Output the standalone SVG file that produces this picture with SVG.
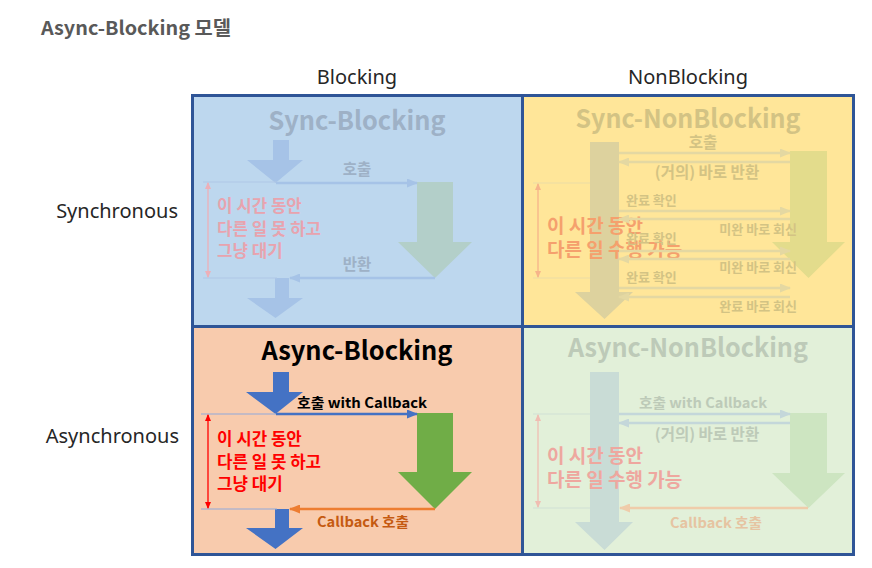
<svg xmlns="http://www.w3.org/2000/svg" width="872" height="568" viewBox="0 0 872 568">
<style>
.kr{font-family:"Noto Sans CJK KR","Noto Sans",sans-serif;font-weight:700}
.qt{font-family:"Noto Sans CJK KR","Noto Sans",sans-serif;font-weight:700;font-size:26px;text-anchor:middle}
.ax{font-family:"Noto Sans","Noto Sans CJK KR",sans-serif;font-size:20px;fill:#262626}
.lbl{font-family:"Noto Sans CJK KR","Noto Sans",sans-serif;font-weight:700;font-size:15.5px}
.sm{font-family:"Noto Sans CJK KR","Noto Sans",sans-serif;font-weight:700;font-size:13px}
.red{font-family:"Noto Sans CJK KR","Noto Sans",sans-serif;font-weight:700;font-size:16.8px}
.red2{font-family:"Noto Sans CJK KR","Noto Sans",sans-serif;font-weight:700;font-size:19px}
.ln{fill:none;stroke-width:2.5}
.dim{fill:none;stroke-width:1.3}
.grid{fill:none;stroke-width:1.2}
.frame{fill:none;stroke:#2F5597;stroke-width:3}
</style>
<defs>
<marker id="mB" markerUnits="userSpaceOnUse" markerWidth="11" markerHeight="9" refX="10" refY="4.5" orient="auto"><path d="M0,0 L11,4.5 L0,9 z" fill="#4472C4"/></marker>
<marker id="mO" markerUnits="userSpaceOnUse" markerWidth="11" markerHeight="9" refX="10" refY="4.5" orient="auto"><path d="M0,0 L11,4.5 L0,9 z" fill="#ED7D31"/></marker>
<marker id="mTB" markerUnits="userSpaceOnUse" markerWidth="11" markerHeight="9" refX="10" refY="4.5" orient="auto"><path d="M0,0 L11,4.5 L0,9 z" fill="#A6C3E7"/></marker>
<marker id="mTY" markerUnits="userSpaceOnUse" markerWidth="11" markerHeight="9" refX="10" refY="4.5" orient="auto"><path d="M0,0 L11,4.5 L0,9 z" fill="#E4D8A2"/></marker>
<marker id="mTG" markerUnits="userSpaceOnUse" markerWidth="11" markerHeight="9" refX="10" refY="4.5" orient="auto"><path d="M0,0 L11,4.5 L0,9 z" fill="#C4D7DA"/></marker>
<marker id="mTO" markerUnits="userSpaceOnUse" markerWidth="11" markerHeight="9" refX="10" refY="4.5" orient="auto"><path d="M0,0 L11,4.5 L0,9 z" fill="#EFCCAA"/></marker>
<marker id="dR" markerUnits="userSpaceOnUse" markerWidth="7" markerHeight="6" refX="6" refY="3" orient="auto-start-reverse"><path d="M0,0 L7,3 L0,6 z" fill="#FF0000"/></marker>
<marker id="dTB" markerUnits="userSpaceOnUse" markerWidth="7" markerHeight="6" refX="6" refY="3" orient="auto-start-reverse"><path d="M0,0 L7,3 L0,6 z" fill="#EDAFB8"/></marker>
<marker id="dTY" markerUnits="userSpaceOnUse" markerWidth="7" markerHeight="6" refX="6" refY="3" orient="auto-start-reverse"><path d="M0,0 L7,3 L0,6 z" fill="#F6B48A"/></marker>
<marker id="dTG" markerUnits="userSpaceOnUse" markerWidth="7" markerHeight="6" refX="6" refY="3" orient="auto-start-reverse"><path d="M0,0 L7,3 L0,6 z" fill="#F0BDB2"/></marker>
</defs>
<rect width="872" height="568" fill="#FFFFFF"/>

<g id="title">
<text class="kr" x="41" y="35" font-size="19" fill="#595959" textLength="190" lengthAdjust="spacingAndGlyphs">Async-Blocking 모델</text>
</g>

<g id="axis-labels">
<text class="ax" x="357" y="84" text-anchor="middle">Blocking</text>
<text class="ax" x="688" y="84" text-anchor="middle">NonBlocking</text>
<text class="ax" x="178" y="218" text-anchor="end">Synchronous</text>
<text class="ax" x="179" y="443" text-anchor="end">Asynchronous</text>
</g>

<g id="quadrant-backgrounds">
<rect x="192.5" y="95.5" width="330" height="231" fill="#BDD7EE"/>
<rect x="522.5" y="95.5" width="331" height="231" fill="#FFE699"/>
<rect x="192.5" y="326.5" width="330" height="228" fill="#F8CBAD"/>
<rect x="522.5" y="326.5" width="331" height="228" fill="#E2F0D9"/>
</g>

<g id="sync-blocking">
<text class="qt" x="357" y="130" fill="#9EB1C6" textLength="177" lengthAdjust="spacingAndGlyphs">Sync-Blocking</text>
<path id="sb-caller-top" d="M273,140 H289 V160 H303 L275.5,183 L247,160 H273 Z" fill="#A6C3E7"/>
<path id="sb-callee" d="M417,182 H453 V242 H472 L435,278 L398,242 H417 Z" fill="#B3CFC9"/>
<path id="sb-caller-bottom" d="M275,278 H289 V298 H303 L275.5,318 L247,298 H275 Z" fill="#A6C3E7"/>
<line class="grid" x1="203" y1="182" x2="277" y2="182" stroke="#AFC8E6"/>
<line class="grid" x1="203" y1="278" x2="277" y2="278" stroke="#AFC8E6"/>
<line class="dim" x1="208" y1="183" x2="208" y2="277" stroke="#EDAFB8" marker-start="url(#dTB)" marker-end="url(#dTB)"/>
<text class="red" fill="#E8A3AE"><tspan x="217" y="212">이 시간 동안</tspan><tspan x="217" y="235">다른 일 못 하고</tspan><tspan x="217" y="257">그냥 대기</tspan></text>
<text class="lbl" x="357" y="175" text-anchor="middle" fill="#9EB1C6">호출</text>
<text class="lbl" x="357" y="270" text-anchor="middle" fill="#9EB1C6">반환</text>
</g>

<g id="sync-nonblocking">
<text class="qt" x="688" y="128" fill="#D3C384" textLength="225" lengthAdjust="spacingAndGlyphs">Sync-NonBlocking</text>
<path id="snb-caller" d="M590,142 H619 V292 H633 L604.5,319 L575,292 H590 Z" fill="#DDD29E"/>
<path id="snb-callee" d="M790,151 H827 V242 H845 L808.5,278 L772,242 H790 Z" fill="#E3DC8C"/>
<line class="grid" x1="533" y1="183" x2="590" y2="183" stroke="#EBDCA6"/>
<line class="grid" x1="533" y1="278" x2="590" y2="278" stroke="#EBDCA6"/>
<line class="dim" x1="538" y1="184" x2="538" y2="277" stroke="#F6B48A" marker-start="url(#dTY)" marker-end="url(#dTY)"/>
<text class="red2" fill="#F5A06D"><tspan x="547" y="233">이 시간 동안</tspan><tspan x="547" y="257">다른 일 수행 가능</tspan></text>
<text class="lbl" x="703" y="148" text-anchor="middle" fill="#D3C384">호출</text>
<text class="lbl" x="707" y="178" text-anchor="middle" fill="#D3C384">(거의) 바로 반환</text>
<text class="sm" x="626" y="205" fill="#D3C384">완료 확인</text>
<text class="sm" x="797" y="234" text-anchor="end" fill="#D3C384">미완 바로 회신</text>
<text class="sm" x="626" y="243" fill="#D3C384">완료 확인</text>
<text class="sm" x="797" y="272" text-anchor="end" fill="#D3C384">미완 바로 회신</text>
<text class="sm" x="626" y="282" fill="#D3C384">완료 확인</text>
<text class="sm" x="797" y="311" text-anchor="end" fill="#D3C384">완료 바로 회신</text>
</g>

<g id="async-blocking">
<text class="qt" x="357" y="360" fill="#000000" textLength="191" lengthAdjust="spacingAndGlyphs">Async-Blocking</text>
<path id="ab-caller-top" d="M273,372 H289 V392 H303 L275.5,414 L246,392 H273 Z" fill="#4472C4"/>
<path id="ab-callee" d="M417,413 H453 V472 H472 L435,509 L398,472 H417 Z" fill="#70AD47"/>
<path id="ab-caller-bottom" d="M275,509 H289 V528 H303 L275.5,549 L246,528 H275 Z" fill="#4472C4"/>
<line class="grid" x1="201" y1="414" x2="277" y2="414" stroke="#8FAADC"/>
<line class="grid" x1="201" y1="509" x2="277" y2="509" stroke="#8FAADC"/>
<line class="dim" x1="208" y1="415" x2="208" y2="508" stroke="#FF0000" marker-start="url(#dR)" marker-end="url(#dR)"/>
<text class="red" fill="#FF0000"><tspan x="217" y="445">이 시간 동안</tspan><tspan x="217" y="468">다른 일 못 하고</tspan><tspan x="217" y="490">그냥 대기</tspan></text>
<text class="kr" x="297" y="408" font-size="14" fill="#000000" textLength="130" lengthAdjust="spacingAndGlyphs">호출 with Callback</text>
<text class="kr" x="317" y="527" font-size="14" fill="#C55A11" textLength="92" lengthAdjust="spacingAndGlyphs">Callback 호출</text>
</g>

<g id="async-nonblocking">
<text class="qt" x="688" y="357" fill="#BDCAB8" textLength="240" lengthAdjust="spacingAndGlyphs">Async-NonBlocking</text>
<path id="anb-caller" d="M590,372 H619 V522 H633 L604.5,550 L575,522 H590 Z" fill="#C9DCD6"/>
<path id="anb-callee" d="M790,413 H827 V473 H845 L808.5,508 L772,473 H790 Z" fill="#CDE5C1"/>
<line class="grid" x1="533" y1="414" x2="590" y2="414" stroke="#CFE0D6"/>
<line class="grid" x1="533" y1="508" x2="590" y2="508" stroke="#CFE0D6"/>
<line class="dim" x1="538" y1="415" x2="538" y2="507" stroke="#F0BDB2" marker-start="url(#dTG)" marker-end="url(#dTG)"/>
<text class="red2" fill="#EEA79F"><tspan x="547" y="463">이 시간 동안</tspan><tspan x="547" y="487">다른 일 수행 가능</tspan></text>
<text class="kr" x="703" y="408" font-size="14" text-anchor="middle" fill="#BDCAB8" textLength="128" lengthAdjust="spacingAndGlyphs">호출 with Callback</text>
<text class="lbl" x="707" y="440" text-anchor="middle" fill="#BDCAB8">(거의) 바로 반환</text>
<text class="kr" x="716" y="528" font-size="14" text-anchor="middle" fill="#E6C4A2" textLength="92" lengthAdjust="spacingAndGlyphs">Callback 호출</text>
</g>

<g id="connectors">
<line class="ln" x1="276" y1="183" x2="417" y2="183" stroke="#A6C3E7" marker-end="url(#mTB)"/>
<line class="ln" x1="435" y1="278" x2="290" y2="278" stroke="#A6C3E7" marker-end="url(#mTB)"/>
<line class="ln" x1="619" y1="153" x2="790" y2="153" stroke="#E4D8A2" marker-end="url(#mTY)"/>
<line class="ln" x1="790" y1="162" x2="619" y2="162" stroke="#E4D8A2" marker-end="url(#mTY)"/>
<line class="ln" x1="619" y1="211" x2="790" y2="211" stroke="#E4D8A2" marker-end="url(#mTY)"/>
<line class="ln" x1="790" y1="219" x2="619" y2="219" stroke="#E4D8A2" marker-end="url(#mTY)"/>
<line class="ln" x1="619" y1="251" x2="790" y2="251" stroke="#E4D8A2" marker-end="url(#mTY)"/>
<line class="ln" x1="790" y1="259" x2="619" y2="259" stroke="#E4D8A2" marker-end="url(#mTY)"/>
<line class="ln" x1="619" y1="288" x2="790" y2="288" stroke="#E4D8A2" marker-end="url(#mTY)"/>
<line class="ln" x1="790" y1="297" x2="619" y2="297" stroke="#E4D8A2" marker-end="url(#mTY)"/>
<line class="ln" x1="276" y1="414" x2="417" y2="414" stroke="#4472C4" marker-end="url(#mB)"/>
<line class="ln" x1="435" y1="509" x2="290" y2="509" stroke="#ED7D31" marker-end="url(#mO)"/>
<line class="ln" x1="619" y1="414" x2="790" y2="414" stroke="#C4D7DA" marker-end="url(#mTG)"/>
<line class="ln" x1="790" y1="423" x2="619" y2="423" stroke="#C4D7DA" marker-end="url(#mTG)"/>
<line class="ln" x1="808" y1="508" x2="620" y2="508" stroke="#EFCCAA" marker-end="url(#mTO)"/>
</g>

<g id="frame">
<rect class="frame" x="192.5" y="95.5" width="661" height="459"/>
<line class="frame" x1="522.5" y1="95.5" x2="522.5" y2="554.5"/>
<line class="frame" x1="192.5" y1="326.5" x2="853.5" y2="326.5"/>
</g>
</svg>
